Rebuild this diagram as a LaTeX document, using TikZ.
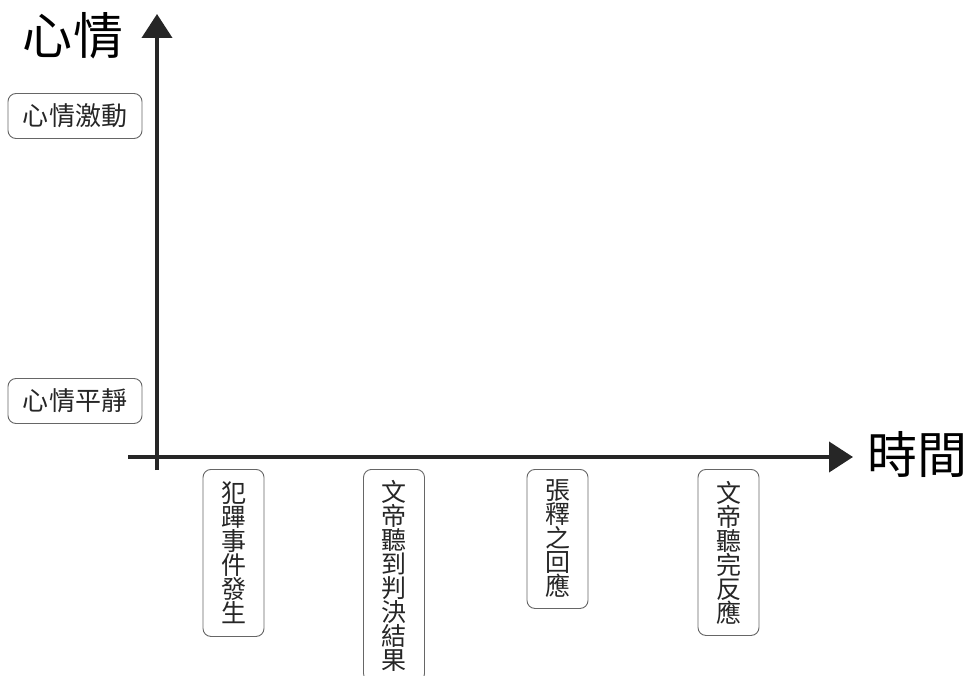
\documentclass[tikz,border=0pt]{standalone}
\usepackage{fontspec}
\newfontfamily\cjk{Noto Sans CJK TC}
\usetikzlibrary{arrows.meta}
\tikzset{
  axis/.style={line width=4pt, draw=black!85, -{Triangle[width=30pt,length=24pt]}},
  hbox/.style={draw=black!60, line width=0.9pt, rounded corners=8pt, font=\cjk\fontsize{26}{28}\selectfont, text=black!85, minimum width=134pt, minimum height=45pt, inner sep=0pt},
  vbox/.style={draw=black!60, line width=0.9pt, rounded corners=8pt, font=\cjk\fontsize{25}{24}\selectfont, text=black!85, minimum width=61pt, inner sep=0pt, align=center, anchor=north},
  biglabel/.style={font=\cjk\fontsize{50}{52}\selectfont, text=black, inner sep=0pt}
}
\begin{document}
\begin{tikzpicture}[x=1pt,y=-1pt]
\useasboundingbox (0,0) rectangle (979,676);
\coordinate (ybot) at (157,470);
\coordinate (ytop) at (157,14);
\coordinate (xl) at (128,457);
\coordinate (xr) at (853,457);
\draw[axis] (ybot) -- (ytop);
\draw[axis] (xl) -- (xr);
\node[biglabel] (ylab) at (73,36) {心情};
\node[biglabel, anchor=west] (xlab) at (867,454) {時間};
\node[hbox] (high) at (75,116) {心情激動};
\node[hbox] (calm) at (75,401) {心情平靜};
\node[vbox, minimum height=167pt] (e1) at (233.5,469) {犯\\蹕\\事\\件\\發\\生};
\node[vbox, minimum height=212pt] (e2) at (394,469) {文\\帝\\聽\\到\\判\\決\\結\\果};
\node[vbox, minimum height=139pt] (e3) at (557.5,469) {張\\釋\\之\\回\\應};
\node[vbox, minimum height=166pt] (e4) at (728.5,469) {文\\帝\\聽\\完\\反\\應};
\end{tikzpicture}
\end{document}
